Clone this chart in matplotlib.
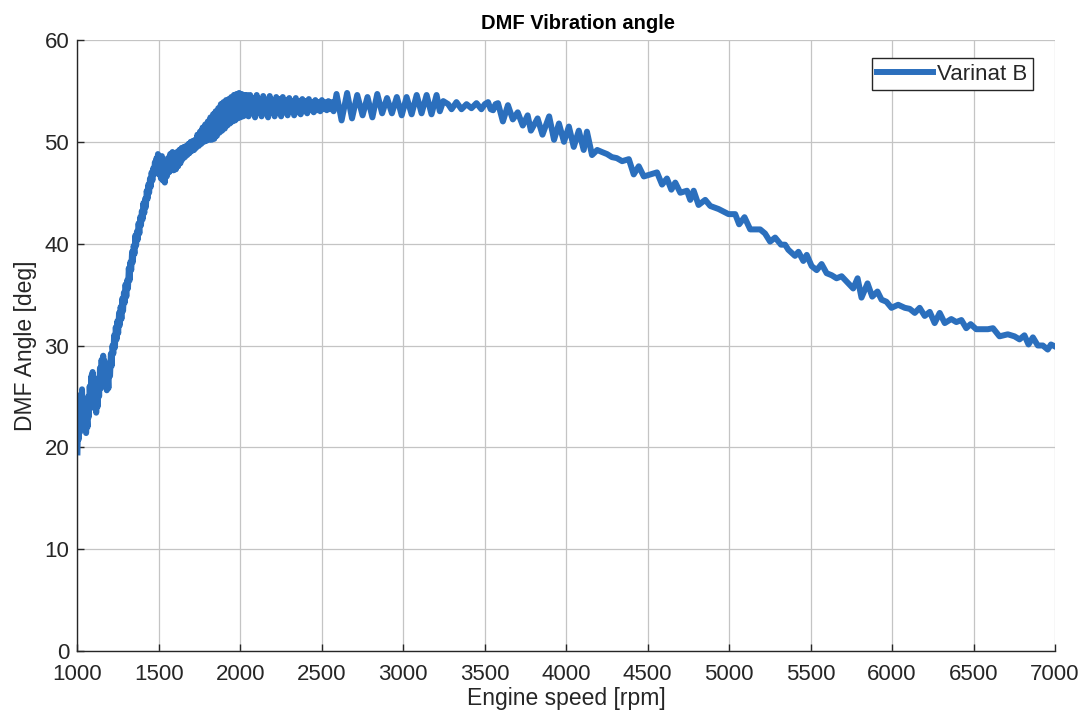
import numpy as np
import matplotlib
matplotlib.use("Agg")
import matplotlib.pyplot as plt

# values, segment by segment
rpm_low = [1000, 1004, 1008, 1012, 1016, 1020, 1025, 1028, 1033, 1038, 1043, 1048,
           1053, 1058, 1062, 1066, 1070, 1075, 1080, 1085, 1089, 1093, 1097, 1101,
           1106, 1110, 1115, 1120, 1124, 1128, 1133, 1138, 1143, 1148, 1153, 1158,
           1162, 1166, 1170, 1175, 1180, 1185, 1190, 1195, 1200, 1205, 1210, 1215,
           1220]
ang_low = [19.5, 23.0, 20.8, 24.2, 21.5, 25.2, 22.4, 25.7, 22.6, 24.8, 21.8, 23.8,
           21.4, 23.0, 22.0, 25.0, 23.0, 26.0, 24.0, 27.0, 24.5, 27.4, 24.8, 26.2,
           23.8, 25.4, 23.4, 25.0, 24.0, 26.8, 25.0, 27.8, 25.8, 28.6, 26.5, 29.0,
           27.0, 28.5, 26.2, 27.8, 25.6, 27.2, 25.8, 28.0, 27.0, 29.2, 28.0, 30.0,
           29.2]

rpm_rise = [1225, 1230, 1235, 1240, 1245, 1250, 1255, 1260, 1265, 1270, 1275, 1280,
            1285, 1290, 1295, 1300, 1305, 1310, 1315, 1320, 1325, 1330, 1335, 1340,
            1345, 1350, 1355, 1360, 1365, 1370, 1375, 1380, 1385, 1390, 1395, 1400,
            1405, 1410, 1415, 1420, 1425, 1430, 1435, 1440, 1445, 1450, 1455, 1460,
            1465, 1470, 1475, 1480, 1485, 1490, 1494]
ang_rise = [31.0, 29.8, 31.8, 30.6, 32.4, 31.2, 33.2, 32.0, 33.8, 32.6, 34.6, 33.4,
            35.2, 34.2, 36.0, 34.8, 36.4, 35.6, 37.6, 36.4, 38.2, 37.4, 39.2, 38.2,
            39.8, 39.0, 40.8, 39.8, 41.2, 40.4, 42.0, 41.0, 42.6, 41.8, 43.2, 42.4,
            44.0, 43.0, 44.4, 43.6, 45.2, 44.4, 45.8, 45.0, 46.4, 45.6, 47.0, 46.2,
            47.4, 46.8, 48.0, 47.2, 48.4, 47.6, 48.8]

rpm_knee = [1500, 1506, 1512, 1518, 1524, 1530, 1536, 1542, 1548, 1555, 1562, 1569,
            1576, 1583, 1590, 1597, 1604, 1611, 1618, 1625, 1632, 1639, 1646, 1653,
            1660, 1667, 1674, 1681, 1688, 1695, 1702, 1709, 1716, 1722]
ang_knee = [46.8, 48.4, 46.4, 48.6, 46.2, 47.8, 46.0, 47.8, 46.6, 48.4, 47.0, 48.8,
            47.2, 49.0, 47.2, 48.6, 47.3, 49.0, 47.6, 49.2, 47.9, 49.4, 48.3, 49.5,
            48.5, 49.6, 48.7, 49.8, 48.9, 50.0, 49.1, 50.1, 49.2, 50.2]

rpm_dense = [1728, 1736, 1745, 1752, 1760, 1768, 1776, 1784, 1792, 1800, 1808, 1816,
             1824, 1832, 1840, 1848, 1856, 1864, 1872, 1880, 1888, 1896, 1904, 1912,
             1920, 1928, 1936, 1944, 1952, 1960, 1968, 1976, 1984, 1992, 2000, 2008,
             2016, 2024, 2032, 2040]
ang_dense = [49.4, 50.7, 49.6, 51.0, 49.8, 51.4, 50.0, 51.7, 50.1, 52.0, 50.2, 52.4,
             50.2, 52.7, 50.3, 53.0, 50.6, 53.3, 50.9, 53.7, 51.1, 53.9, 51.3, 54.1,
             51.6, 54.2, 51.8, 54.4, 52.0, 54.6, 52.1, 54.7, 52.3, 54.8, 52.4, 54.7,
             52.5, 54.6, 52.6, 54.6]

rpm_flat = [2050, 2060, 2070, 2080, 2090, 2100, 2110, 2120, 2130, 2140, 2150, 2160,
            2170, 2180, 2190, 2200, 2210, 2220, 2230, 2240, 2250, 2260, 2270, 2280,
            2290, 2300, 2310, 2320, 2330, 2340, 2350, 2360, 2370, 2380, 2390, 2400,
            2410, 2420, 2430, 2440, 2450, 2460, 2470, 2480, 2490, 2500, 2510, 2520,
            2530, 2540, 2550, 2560, 2572]
ang_flat = [52.5, 54.6, 52.8, 54.3, 52.4, 54.6, 52.9, 54.2, 52.5, 54.5, 52.8, 54.1,
            52.4, 54.5, 52.9, 54.1, 52.5, 54.4, 52.9, 54.2, 52.5, 54.4, 52.9, 54.1,
            52.6, 54.3, 53.0, 54.0, 52.6, 54.3, 52.9, 54.0, 52.7, 54.2, 53.0, 54.0,
            52.8, 54.2, 53.1, 53.9, 52.9, 54.1, 53.1, 53.9, 53.0, 54.1, 53.2, 53.9,
            53.1, 54.0, 53.2, 53.9, 53.0]

rpm_wave = [2590, 2621, 2655, 2685, 2717, 2750, 2780, 2810, 2840, 2870, 2900, 2930,
            2960, 2990, 3020, 3051, 3082, 3112, 3143, 3173, 3204, 3224, 3245, 3275]
ang_wave = [54.7, 52.1, 54.8, 52.3, 54.6, 52.6, 54.4, 52.4, 54.7, 52.8, 54.3, 52.8,
            54.4, 52.6, 54.4, 52.7, 54.6, 52.8, 54.6, 52.7, 54.6, 53.0, 54.0, 53.7]

rpm_fall = [3296, 3326, 3357, 3388, 3418, 3449, 3479, 3500, 3520, 3536, 3551, 3566,
            3581, 3611, 3642, 3672, 3702, 3733, 3763, 3783, 3824, 3854, 3895, 3925,
            3955, 3986, 4016, 4046, 4077, 4107, 4127, 4158, 4190, 4219, 4250, 4280,
            4310]
ang_fall = [53.2, 53.9, 53.2, 53.7, 53.3, 53.8, 53.2, 53.7, 53.9, 53.2, 53.1, 53.7,
            53.8, 52.0, 53.6, 52.2, 52.9, 51.6, 52.6, 51.1, 52.3, 50.7, 52.5, 50.2,
            51.8, 50.0, 51.5, 49.5, 51.1, 49.2, 51.0, 48.7, 49.2, 49.0, 48.8, 48.5,
            48.4]

rpm_tail = [4343, 4384, 4414, 4445, 4476, 4516, 4557, 4588, 4618, 4645, 4669, 4700,
            4741, 4761, 4782, 4812, 4853, 4884, 4935, 4996, 5037, 5061, 5094, 5129,
            5159, 5190, 5220, 5251, 5282, 5318, 5343, 5363, 5404, 5425, 5455, 5476,
            5506, 5537, 5567, 5598, 5629, 5659, 5690, 5731, 5761, 5788, 5812, 5849,
            5878, 5910, 5935, 5965, 5996, 6037, 6078, 6108, 6139, 6169, 6200, 6231,
            6261, 6292, 6323, 6363, 6394, 6425, 6455, 6482, 6516, 6557, 6588, 6619,
            6659, 6710, 6751, 6782, 6812, 6837, 6864, 6894, 6925, 6955, 6975, 7000]
ang_tail = [48.1, 48.3, 46.8, 47.6, 46.6, 46.8, 47.0, 45.8, 46.4, 45.3, 46.0, 45.0,
            45.2, 44.3, 45.2, 43.8, 44.3, 43.7, 43.4, 42.9, 42.9, 41.9, 42.6, 41.4,
            41.4, 41.4, 41.0, 40.2, 40.6, 39.9, 39.9, 39.4, 38.8, 39.2, 38.3, 38.9,
            37.8, 37.4, 38.0, 37.1, 36.9, 36.6, 36.8, 36.1, 35.6, 36.6, 34.7, 36.1,
            34.8, 35.3, 34.5, 34.3, 33.7, 34.0, 33.7, 33.6, 33.2, 33.7, 32.9, 33.3,
            32.2, 33.2, 32.2, 32.6, 32.3, 32.5, 31.7, 32.1, 31.6, 31.6, 31.6, 31.7,
            30.9, 31.1, 30.9, 30.6, 31.0, 30.1, 30.8, 30.0, 30.0, 29.6, 30.1, 29.9]

rpm = np.concatenate([rpm_low, rpm_rise, rpm_knee, rpm_dense, rpm_flat,
                      rpm_wave, rpm_fall, rpm_tail])
angle = np.concatenate([ang_low, ang_rise, ang_knee, ang_dense, ang_flat,
                        ang_wave, ang_fall, ang_tail])

x_ticks = list(range(1000, 7001, 500))
y_ticks = list(range(0, 61, 10))

plt.rcParams['font.family'] = ['Liberation Sans', 'DejaVu Sans']
text_col = '#262626'

fig = plt.figure(figsize=(10.85, 7.18), dpi=100)
ax = fig.add_axes([0.0714, 0.0933, 0.9010, 0.8510])

ax.plot(rpm, angle, color='#2b6fbd', lw=4.3, solid_joinstyle='round',
        label='Varinat B')

ax.set_xlim(1000, 7000)
ax.set_ylim(0, 60)
ax.set_xticks(x_ticks)
ax.set_yticks(y_ticks)
ax.grid(True, color='#c4c4c4', lw=0.9)
ax.set_axisbelow(True)

for s in ['top', 'right']:
    ax.spines[s].set_visible(False)
for s in ['left', 'bottom']:
    ax.spines[s].set_color(text_col)
    ax.spines[s].set_linewidth(1.0)

ax.tick_params(direction='in', length=5, width=1.0, colors=text_col,
               labelsize=16)
ax.tick_params(axis='x', pad=9)
ax.tick_params(axis='y', pad=6)

ax.set_xlabel('Engine speed [rpm]', fontsize=16.5, color=text_col, labelpad=2)
ax.set_ylabel('DMF Angle [deg]', fontsize=16.5, color=text_col, labelpad=5)
ax.set_title('DMF Vibration angle', fontsize=14.5, fontweight='bold',
             color='black', pad=8, x=0.512)

leg = ax.legend(loc='upper right', bbox_to_anchor=(0.9775, 0.9705),
                borderaxespad=0, fontsize=16, frameon=True, fancybox=False,
                framealpha=1, edgecolor=text_col, handlelength=2.5,
                borderpad=0.25, handletextpad=0.2)
leg.get_frame().set_linewidth(1.0)
for t in leg.get_texts():
    t.set_color(text_col)

fig.savefig('out.png', dpi=100)
